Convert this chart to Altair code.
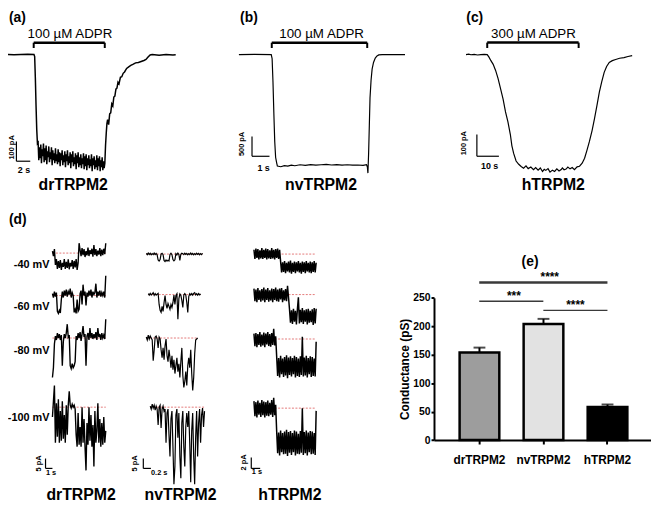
import altair as alt
import numpy as np
import pandas as pd

FONT = "Liberation Sans"

# ---------------- (a) drTRPM2 whole-cell current: time (s), current (pA)
a_start_t = [0, 1, 2, 3, 4, 4.9, 5.0, 5.1, 5.2, 5.3, 5.4]
a_start_i = [0, 1, -1, 0, 1, 0, -10, -120, -260, -380, -450]
a_noise_t0, a_noise_t1 = 5.5, 15.05
a_noise_i = [-445, -535, -470, -525, -455, -550, -480, -515, -450, -545,
             -475, -535, -460, -555, -490, -520, -465, -545, -495, -530,
             -470, -560, -485, -535, -500, -550, -475, -540, -505, -555,
             -480, -545, -495, -565, -500, -535, -485, -560, -510, -545,
             -490, -570, -505, -540, -485, -560, -515, -550, -495, -575,
             -505, -545, -490, -565, -520, -555, -500, -580, -510, -550,
             -495, -570, -520, -560, -505, -575, -525, -555, -500, -580,
             -515, -565, -505, -585, -525, -560, -510, -575, -530, -565,
             -505, -590, -525, -560, -515, -580, -535, -570, -510, -585,
             -525, -565, -515, -590, -535, -570, -520, -585, -540, -575]
a_rec_t = [15.15, 15.25, 15.35, 15.45, 15.55, 15.7, 15.85, 16.0, 16.15, 16.3, 16.45, 16.6, 16.75, 16.9, 17.05,
           17.2, 17.4, 17.6, 17.8, 18.0, 18.3, 18.6, 18.9, 19.2, 19.6, 20.0, 20.4, 20.8, 21.1, 21.4, 21.7, 22.0,
           23, 24, 25, 25.4]
a_rec_i = [-550, -460, -400, -350, -330, -355, -300, -295, -250, -260, -215, -210, -175, -170, -140, -148, -115,
           -112, -95, -88, -70, -62, -55, -50, -42, -40, -35, -30, -25, -12, -2, 0, -3, 0, -2, -1]

# ---------------- (b) nvTRPM2
b_t = [0.1, 1.0, 1.95, 2.0, 2.05, 2.1, 2.15, 2.2, 2.26, 2.3, 2.5, 2.7, 2.9, 3.1, 3.3, 3.6, 3.9, 4.2, 4.5, 4.8,
       5.1, 5.4, 5.7, 6.0, 6.3, 6.6, 6.9, 7.2, 7.4, 7.45, 7.48, 7.52, 7.56, 7.6, 7.66, 7.72, 7.8, 7.9, 8.0, 8.1,
       8.3, 9.6]
b_i = [0, 5, 0, -100, -700, -1500, -2200, -2600, -2740, -2820, -2840, -2810, -2825, -2800, -2815, -2790, -2805,
       -2785, -2800, -2790, -2780, -2795, -2785, -2800, -2790, -2800, -2795, -2805, -2790, -2850, -3000, -2500,
       -1800, -1100, -650, -370, -200, -90, -35, -10, 0, 0]

# ---------------- (c) hTRPM2
c_t = [0.76, 2, 3, 4.5, 6, 7.5, 9, 10.4, 11.2, 12.0, 13.1, 14.2, 15.3, 16.5, 17.6, 18.7, 19.8, 20.9, 21.6, 22.4,
       23.5, 24.7, 25.8, 26.9, 28, 29, 30.2, 31.4, 32.4, 33.5, 34.5, 35.5, 36.3, 37, 38, 38.9, 40, 41, 42, 43,
       44, 44.5, 45.3, 46.2, 47, 48, 49, 50, 51.2, 52.3, 53.5, 54.6, 55.7, 56.8, 58, 59.1, 60.2, 61.3, 62.4, 63.5,
       64.6, 65.8, 67.2, 68.7, 70.5, 72.5, 74.3, 76.2]
c_i = [0, 2, -1, 1, -2, 0, 1, 0, -12, -27, -45, -73, -110, -159, -205, -264, -310, -368, -420, -455,
       -490, -505, -515, -523, -512, -525, -518, -530, -520, -532, -522, -538, -528, -533, -525, -541, -532, -538,
       -526, -536, -529, -522, -530, -527, -518, -526, -520, -530, -517, -514, -500, -477, -440, -400, -350, -295,
       -235, -173, -125, -82, -55, -36, -28, -23, -17, -14, -9, -5]

# ---------------- (d) single-channel traces (pA relative to closed level)
voltages = ["-40 mV", "-60 mV", "-80 mV", "-100 mV"]
dr_span = [(0, 7.71)] * 4
dr_traces = [
    [1, -1.5, 2, -6, -3, -8, -4, -7.5, -3.5, -8.5, -5, -7, -3, -8, -4.5, -7.5, -3.2, -8.2, -5, -6.8, -3.5, -8,
     -4, -7.2, -3, -8.5, -5, 5, 1.5, -1.5, 2.5, -1, 2, -2, 1, -1.2, 2.8, -1.5, 1.5, -0.5, 2.2, -1.8, 4, -1, 2,
     -1.6, 1.2, -0.8, 2.5, -1.5, 1.8, -1, 2.2, -0.5, 5],
    [1, -1, 2, -0.5, 1.5, -8, -9, -7.5, -8.8, -2, 2, -1, 2.5, 0, 3, -0.5, 2, 0.5, 3.5, -1, 1.5, 0, -8.5, -7, -9,
     -2, -8, -7, 1, 2.5, -4.5, 5.5, 0, 2, -5, 1.5, -0.5, 2.5, 0, 3, -1, 2, 0.5, 1.5, 6, -1, 2, 0, 2.5, -0.5, 1.5,
     0, 2, -1, 10],
    [-20, -15, -3, 1, -1, 2.5, 0, 2, -1, 1.5, -14, -2, 2, 0, 2.5, 7, 0.5, 1.5, -14, -15.5, -13, -15, -14, -12, 1,
     -1, 2.5, 0, 3, -1.5, 2, 6, 0.5, 2, -14, 1, 2.5, -1, 5, 0, 2.5, -0.5, 2, 0, 3, -1, 5, 0.5, 2, -1, 2.5, 0, 1.5,
     -0.5, 9.5],
    [-5, 3, 11, -18, 2, -15, 4, -18, -2, -17, 3, -16, -4, -18, 1, -14, 1, 8, 1, -0.5, 1.5, 0, 1, -1, -14, -20, -3,
     -19, -10, -20, 0, -18, -6, -20, -32, -8, -19, 0, -17, -4, -20, -9, -30, -2, -18, -12, 2, -18, -6, -20, -8,
     -19, -5, -18, -12],
]
nv_span = [(0, 1.48), (0.052, 1.429), (0, 1.351), (0.104, 1.532)]
nv_traces = [
    [0.3, -0.3, 0.5, -0.2, 0.4, -0.4, 0.2, -0.3, 0.5, -0.2, 0.3, -0.4, -3, -3.5, -2.8, 0, 0.4, -0.3, -3.2, -3.8,
     -3, -3.6, -3.1, -3.5, -0.2, 0.4, -0.3, -2.8, -3.4, -2.9, 0.2, -0.4, 0.5, -0.2, -3.2, -0.1, 0.4, 0.2, -0.3,
     0.4, -0.2, 0.3, -0.4, 0.2, -0.3, 0.5, -0.2, 0.3, -0.4, 0.2, -0.3, 0.4, -0.2, 0.3, -0.4, 0.2, -0.3, 0.4],
    [0.5, -0.3, 0.6, -0.2, 0.4, 1, -0.4, 0.5, -0.3, 0.2, 0.6, -5, -8, -9, -6, -8.5, -4, -0.5, -5, -7, -4.5, -6,
     -7.5, -5, -6.5, -4, -0.3, -5, -0.5, 0.4, -12.5, -2, 0.3, -0.4, -3, -6.5, -0.2, 0.5, -0.3, -4, -9, -1, 0.4,
     -0.2, 0.5, -0.3, 0.6, 1, -0.2, 0.4, -0.3, 0.5, -0.2, 0.3],
    [0.5, -1, 1.5, -0.5, 1, 0, -1, -11.5, -6, 0.5, 1, -0.5, -5, 0.5, -0.5, -6, -10, -5, -11, -4, -0.5, -9, -12,
     -6, -10, -15, -9, -16, -11, -18, -14, -10, -17, -13, -20, -12, -5, -19, -25, -22, -17, -24, -14, -10, -15,
     -6, -18, -26.5, -20, -8, -1, -0.5, 0],
    [0.5, -1, 1.5, -0.5, 1, -1.5, 0.5, -1, -9, 0, 1, -10.5, -1, 0.5, -2, -1, -18, -3, -1, -14, -25, -6, -2, -20,
     -39, -30, -4, -1, -15.5, -3, -25, -36, -8, -2, -20, -30, -10, -3, -10, -2, -18, -38, -12, -3, -25, -39, -15,
     -2, -25, -8, -1, -18, -4, -0.5, -10, -2],
]
h_span = [(0, 7.0)] * 4
h_traces = [
    [0.8, -0.9, 1.0, -0.7, 0.9, -1.0, 0.7, -0.8, 1.1, -0.9, 0.8, -0.7, 1.0, -1.0, 0.9, -0.8, 0.7, -0.9, 1.1, -0.8,
     0.8, -1.0, 0.9, -0.7, 1.0, -0.9, 0.8,
     -1.4, -3.4, -1.5, -3.3, -1.3, -3.5, -1.6, -3.2, -1.4, -3.4, -1.2, -3.6, -1.6, -3.3, -1.4, -3.5, -1.5, -3.2,
     -1.3, -3.4, -1.6, -3.6, -1.4, -3.3, -1.5, -3.5, -1.3, -3.2, -1.6, -3.4, -1.4, -3.5, -1.5, -3.3, -1.3, -3.4,
     -1.6],
    [1.1, -1.2, 0.9, -1.4, 1.2, -1.0, 0.8, -1.3, 1.0, -1.1, 1.3, -1.4, 0.9, -1.0, 1.2, -1.3, 0.8, -1.1, 1.1, -1.4,
     1.0, -1.0, 1.3, -1.2, 0.9, -1.3, 1.1, -0.9, 1.2, -1.4, 0.8, -1.1, 1.0, -1.2, 1.6, -0.5,
     -2.7, -5.2, -2.9, -5.4, -2.6, -5.0, -3.0, -5.5, -2.7, -0.5, -5.3, -2.8, -5.1, -2.5, -5.4, -2.9, -5.0, -2.7,
     -5.5, -2.6, -5.2, -3.0, -5.1, -2.7, -5.6, -2.5, -5.3, -2.6],
    [1.0, -1.3, 1.1, -1.5, 0.9, -1.1, 1.3, -1.4, 0.8, -1.2, 1.2, -1.5, 1.0, -1.0, 1.3, -1.3, 0.9, -1.4, 1.1, -1.1,
     1.9, -1.2, 0.5,
     -3.2, -6.8, -3.5, -7.1, -3.1, -6.5, -3.6, -7.0, -3.3, -6.7, -3.0, -7.2, -3.4, -6.6, -3.2, -6.9, -3.5, -6.5,
     -3.1, -7.1, -3.3, -6.8, -3.6, -7.0, -3.2, -6.6, 0.4, -6.9, -3.4, -6.7, -3.1, -7.1, -3.5, -6.5, -3.2, -7.0,
     -3.3, -6.8, -3.6, -6.9, -0.5],
    [1.3, -1.5, 1.1, -1.7, 1.4, -1.2, 1.0, -1.6, 1.5, -1.3, 1.2, -1.7, 1.1, -1.4, 1.4, -1.5, 1.0, -1.2, 1.5, -1.6,
     1.9, -1.3, 0.6,
     -4.2, -8.3, -4.5, -8.7, -4.1, -8.1, -4.6, -8.5, -4.3, -8.4, -4.0, -8.8, -4.4, -8.2, -4.2, -8.6, -4.6, -8.1,
     -4.1, -8.7, -4.3, -8.4, -4.7, -8.5, -4.2, -8.2, 0, -8.6, -4.4, -8.3, -4.1, -8.7, -4.5, -8.1, -4.2, -8.5,
     -4.3, -8.4, -4.6, -8.6, -0.5],
]

# ---------------- (e) conductance bars
e_cat = ["drTRPM2", "nvTRPM2", "hTRPM2"]
e_val = [154, 204, 58]
e_err = [8.5, 9, 4.5]
e_fill = ["#9d9d9d", "#e2e2e2", "#000000"]
sig_from = [0, 0, 1]
sig_to = [2, 1, 2]
sig_y = [277, 244, 228]
sig_lab = ["****", "***", "****"]
sig_lab_x = [1.1, 0.54, 1.5]

# ====================================================================
layers = []


def sx(dom, rng):
    return alt.Scale(domain=dom, range=rng, nice=False, zero=False)


def X(f, p):
    return alt.X(f, type="quantitative", scale=sx(*p), axis=None)


def Y(f, p):
    return alt.Y(f, type="quantitative", scale=sx(*p), axis=None)


def line_layer(t, v, px, py, sw=1.0):
    df = pd.DataFrame({"t": t, "v": v, "k": np.arange(len(t))})
    return alt.Chart(df).mark_line(color="black", strokeWidth=sw).encode(
        x=X("t", px), y=Y("v", py), order="k:Q")


def seg_layer(segs, px, py, sw, color="black", dash=None):
    df = pd.DataFrame(segs, columns=["x1", "x2", "y1", "y2"])
    kw = dict(color=color, strokeWidth=sw)
    if dash:
        kw["strokeDash"] = dash
    return alt.Chart(df).mark_rule(**kw).encode(
        x=X("x1", px), x2="x2", y=Y("y1", py), y2="y2")


def text_layer(rows, px, py, size, weight="bold", angle=0, align="center"):
    df = pd.DataFrame(rows, columns=["x", "y", "s"])
    kw = dict(font=FONT, fontSize=size, fontWeight=weight, align=align, baseline="middle", color="black")
    if angle:
        kw["angle"] = angle
    return alt.Chart(df).mark_text(**kw).encode(x=X("x", px), y=Y("y", py), text="s:N")


def abs_text(s, x, y, size, weight="bold", align="left"):
    return alt.Chart(pd.DataFrame({"s": [s]})).mark_text(
        font=FONT, fontSize=size, fontWeight=weight, align=align, baseline="middle", color="black"
    ).encode(x=alt.value(x), y=alt.value(y), text="s:N")


# ---- panel (a)
AX, AY = ([0, 25], [0, 175]), ([-600, 0], [172, 52])
a_t = a_start_t + list(np.linspace(a_noise_t0, a_noise_t1, len(a_noise_i))) + a_rec_t
a_i = a_start_i + a_noise_i + a_rec_i
layers.append(line_layer(a_t, a_i, AX, AY, 1.5))
layers.append(seg_layer([(4.86, 15.14, 60, 60)], AX, AY, 2.5))
layers.append(seg_layer([(4.86, 4.86, 60, 33), (15.14, 15.14, 60, 33)], AX, AY, 2))
layers.append(seg_layer([(2.36, 2.36, -440, -540), (2.36, 4.36, -540, -540)], AX, AY, 1.2))
layers.append(text_layer([(10.1, 105, "100 µM ADPR")], AX, AY, 13.5, weight="normal"))
layers.append(text_layer([(10.57, -662, "drTRPM2")], AX, AY, 16))
layers.append(text_layer([(1.66, -470, "100 pA")], AX, AY, 7.5, angle=270))
layers.append(text_layer([(3.45, -585, "2 s")], AX, AY, 9))
layers.append(abs_text("(a)", 9, 15, 14))

# ---- panel (b)
BX, BY = ([0, 10], [240, 417]), ([-3000, 0], [172, 52])
layers.append(line_layer(b_t, b_i, BX, BY, 1.2))
layers.append(seg_layer([(1.98, 7.44, 300, 300)], BX, BY, 2.5))
layers.append(seg_layer([(1.98, 1.98, 300, 165), (7.44, 7.44, 300, 165)], BX, BY, 2))
layers.append(seg_layer([(0.85, 0.85, -2075, -2575), (0.85, 1.85, -2575, -2575)], BX, BY, 1.2))
layers.append(text_layer([(4.83, 525, "100 µM ADPR")], BX, BY, 13.5, weight="normal"))
layers.append(text_layer([(4.8, -3310, "nvTRPM2")], BX, BY, 16))
layers.append(text_layer([(0.28, -2262, "500 pA")], BX, BY, 7.5, angle=270))
layers.append(text_layer([(1.51, -2867, "1 s")], BX, BY, 9))
layers.append(abs_text("(b)", 243, 15, 14))

# ---- panel (c)
CX, CY = ([0, 80], [470, 648.4]), ([-600, 0], [184, 52])
layers.append(line_layer(c_t, c_i, CX, CY, 1.2))
layers.append(seg_layer([(10.4, 51.9, 55, 55)], CX, CY, 2.5))
layers.append(seg_layer([(10.4, 10.4, 55, 30), (51.9, 51.9, 55, 30)], CX, CY, 2))
layers.append(seg_layer([(5.7, 5.7, -368, -468), (5.7, 15.7, -468, -468)], CX, CY, 1.2))
layers.append(text_layer([(31.4, 95, "300 µM ADPR")], CX, CY, 13.5, weight="normal"))
layers.append(text_layer([(40.4, -600, "hTRPM2")], CX, CY, 16))
layers.append(text_layer([(0.0, -408, "100 pA")], CX, CY, 7.5, angle=270))
layers.append(text_layer([(11.5, -512, "10 s")], CX, CY, 9))
layers.append(abs_text("(c)", 472, 15, 14))

# ---- panel (d)
DR_X = ([0, 8], [53, 109])
NV_X = ([0, 1.5], [148, 205.75])
H_X = ([0, 7], [257, 320])
DR_BASE = [253, 296, 339, 409]
NV_BASE = [254, 295, 339, 409]
H_BASE = [254, 295, 340, 410]
row_label_y = [-6, -6, -6.5, -5.5]
RED = "#e06a6a"
for r in range(4):
    dry = ([-30, 0], [DR_BASE[r] + 60, DR_BASE[r]])
    nvy = ([-30, 0], [NV_BASE[r] + 60, NV_BASE[r]])
    hy = ([-10, 0], [H_BASE[r] + 55, H_BASE[r]])
    for span, vals, px, py, sw in ((dr_span[r], dr_traces[r], DR_X, dry, 1.4),
                                   (nv_span[r], nv_traces[r], NV_X, nvy, 1.2),
                                   (h_span[r], h_traces[r], H_X, hy, 1.5)):
        layers.append(seg_layer([(span[0], span[1], 0, 0)], px, py, 0.9, color=RED, dash=[2, 1.5]))
        t = np.linspace(span[0], span[1], len(vals))
        layers.append(line_layer(t, vals, px, py, sw))
    layers.append(text_layer([(-0.43, row_label_y[r], voltages[r])], DR_X, dry, 11, align="right"))

dry4 = ([-30, 0], [DR_BASE[3] + 60, DR_BASE[3]])
nvy4 = ([-30, 0], [NV_BASE[3] + 60, NV_BASE[3]])
hy4 = ([-10, 0], [H_BASE[3] + 55, H_BASE[3]])
layers.append(seg_layer([(-1.0, -1.0, -26, -31), (-1.0, 0.0, -31, -31)], DR_X, dry4, 1.2))
layers.append(text_layer([(-2.0, -28.5, "5 pA")], DR_X, dry4, 7.5, angle=270))
layers.append(text_layer([(-0.2, -33.5, "1 s")], DR_X, dry4, 7.5))
layers.append(seg_layer([(-0.078, -0.078, -26, -31), (-0.078, 0.122, -31, -31)], NV_X, nvy4, 1.2))
layers.append(text_layer([(-0.29, -28.5, "5 pA")], NV_X, nvy4, 7.5, angle=270))
layers.append(text_layer([(0.34, -33.5, "0.2 s")], NV_X, nvy4, 7.5))
layers.append(seg_layer([(-0.3, -0.3, -9.09, -11.09), (-0.3, 0.7, -11.09, -11.09)], H_X, hy4, 1.2))
layers.append(text_layer([(-1.14, -10.0, "2 pA")], H_X, hy4, 7.5, angle=270))
layers.append(text_layer([(0.33, -11.7, "1 s")], H_X, hy4, 7.5))
layers.append(text_layer([(4.14, -44.5, "drTRPM2")], DR_X, dry4, 16))
layers.append(text_layer([(0.9, -44.5, "nvTRPM2")], NV_X, nvy4, 16))
layers.append(text_layer([(4.05, -16.0, "hTRPM2")], H_X, hy4, 16))
layers.append(abs_text("(d)", 9, 220, 14))

# ---- panel (e)
H_TOTAL, W_TOTAL = 511, 659
Y_AXIS_X, X_AXIS_Y = 439.3, 442.3
e_df = pd.DataFrame({"cat": e_cat, "val": e_val,
                     "top": [v + e for v, e in zip(e_val, e_err)]})
xband = alt.Scale(domain=e_cat, range=[Y_AXIS_X, 661], paddingInner=0.38, paddingOuter=0.4)
yE = alt.Scale(domain=[0, 250], range=[X_AXIS_Y, 298.3], nice=False, zero=False)
bars = alt.Chart(e_df).mark_bar(stroke="black", strokeWidth=2.5).encode(
    x=alt.X("cat:N", sort=e_cat, scale=xband,
            axis=alt.Axis(title=None, labelAngle=0, labelFont=FONT, labelFontSize=12, labelFontWeight="bold",
                          labelColor="black", domainColor="black", domainWidth=2, tickColor="black",
                          tickWidth=2, tickSize=4, labelPadding=11, offset=X_AXIS_Y - H_TOTAL)),
    y=alt.Y("val:Q", scale=yE,
            axis=alt.Axis(title="Conductance (pS)", values=[0, 50, 100, 150, 200, 250], grid=False,
                          labelFont=FONT, labelFontSize=10.5, labelFontWeight="bold", labelColor="black",
                          titleFont=FONT, titleFontSize=12, titleFontWeight="bold", titleColor="black",
                          domainColor="black", domainWidth=2, tickColor="black", tickWidth=2, tickSize=3,
                          labelPadding=1, titleX=-23, offset=-Y_AXIS_X)),
    fill=alt.Fill("cat:N", scale=alt.Scale(domain=e_cat, range=e_fill), legend=None),
)
err_rule = alt.Chart(e_df).mark_rule(color="black", strokeWidth=2).encode(
    x=alt.X("cat:N", sort=e_cat, scale=xband, axis=None),
    y=alt.Y("val:Q", scale=yE, axis=None), y2="top:Q")
err_cap = alt.Chart(e_df).mark_tick(color="black", thickness=2, size=12).encode(
    x=alt.X("cat:N", sort=e_cat, scale=xband, axis=None),
    y=alt.Y("top:Q", scale=yE, axis=None))
sigx = ([0, 2], [485.1, 614.9])
sig_df = pd.DataFrame({"a": sig_from, "b": sig_to, "y": sig_y, "s": sig_lab, "m": sig_lab_x,
                       "w": [2.5, 1.3, 1.3]})
sig_rules = alt.Chart(sig_df).mark_rule(color="#3a3a3a").encode(
    x=alt.X("a:Q", scale=sx(*sigx), axis=None), x2="b:Q",
    y=alt.Y("y:Q", scale=yE, axis=None),
    strokeWidth=alt.StrokeWidth("w:Q", scale=None))
sig_text = alt.Chart(sig_df).mark_text(font=FONT, fontSize=12, fontWeight="bold", color="black",
                                       baseline="alphabetic", dy=-1).encode(
    x=alt.X("m:Q", scale=sx(*sigx), axis=None),
    y=alt.Y("y:Q", scale=yE, axis=None), text="s:N")
layers += [bars, err_rule, err_cap, sig_rules, sig_text]
layers.append(abs_text("(e)", 528, 262, 14))

chart = alt.layer(*layers).resolve_scale(x="independent", y="independent").properties(
    width=W_TOTAL, height=H_TOTAL,
    padding={"left": -8, "top": -8, "right": 0, "bottom": 0},
    autosize=alt.AutoSizeParams(type="none"),
    background="white",
).configure_view(stroke="transparent")

chart.save("out.html", embed_options={"renderer": "svg", "actions": False})
